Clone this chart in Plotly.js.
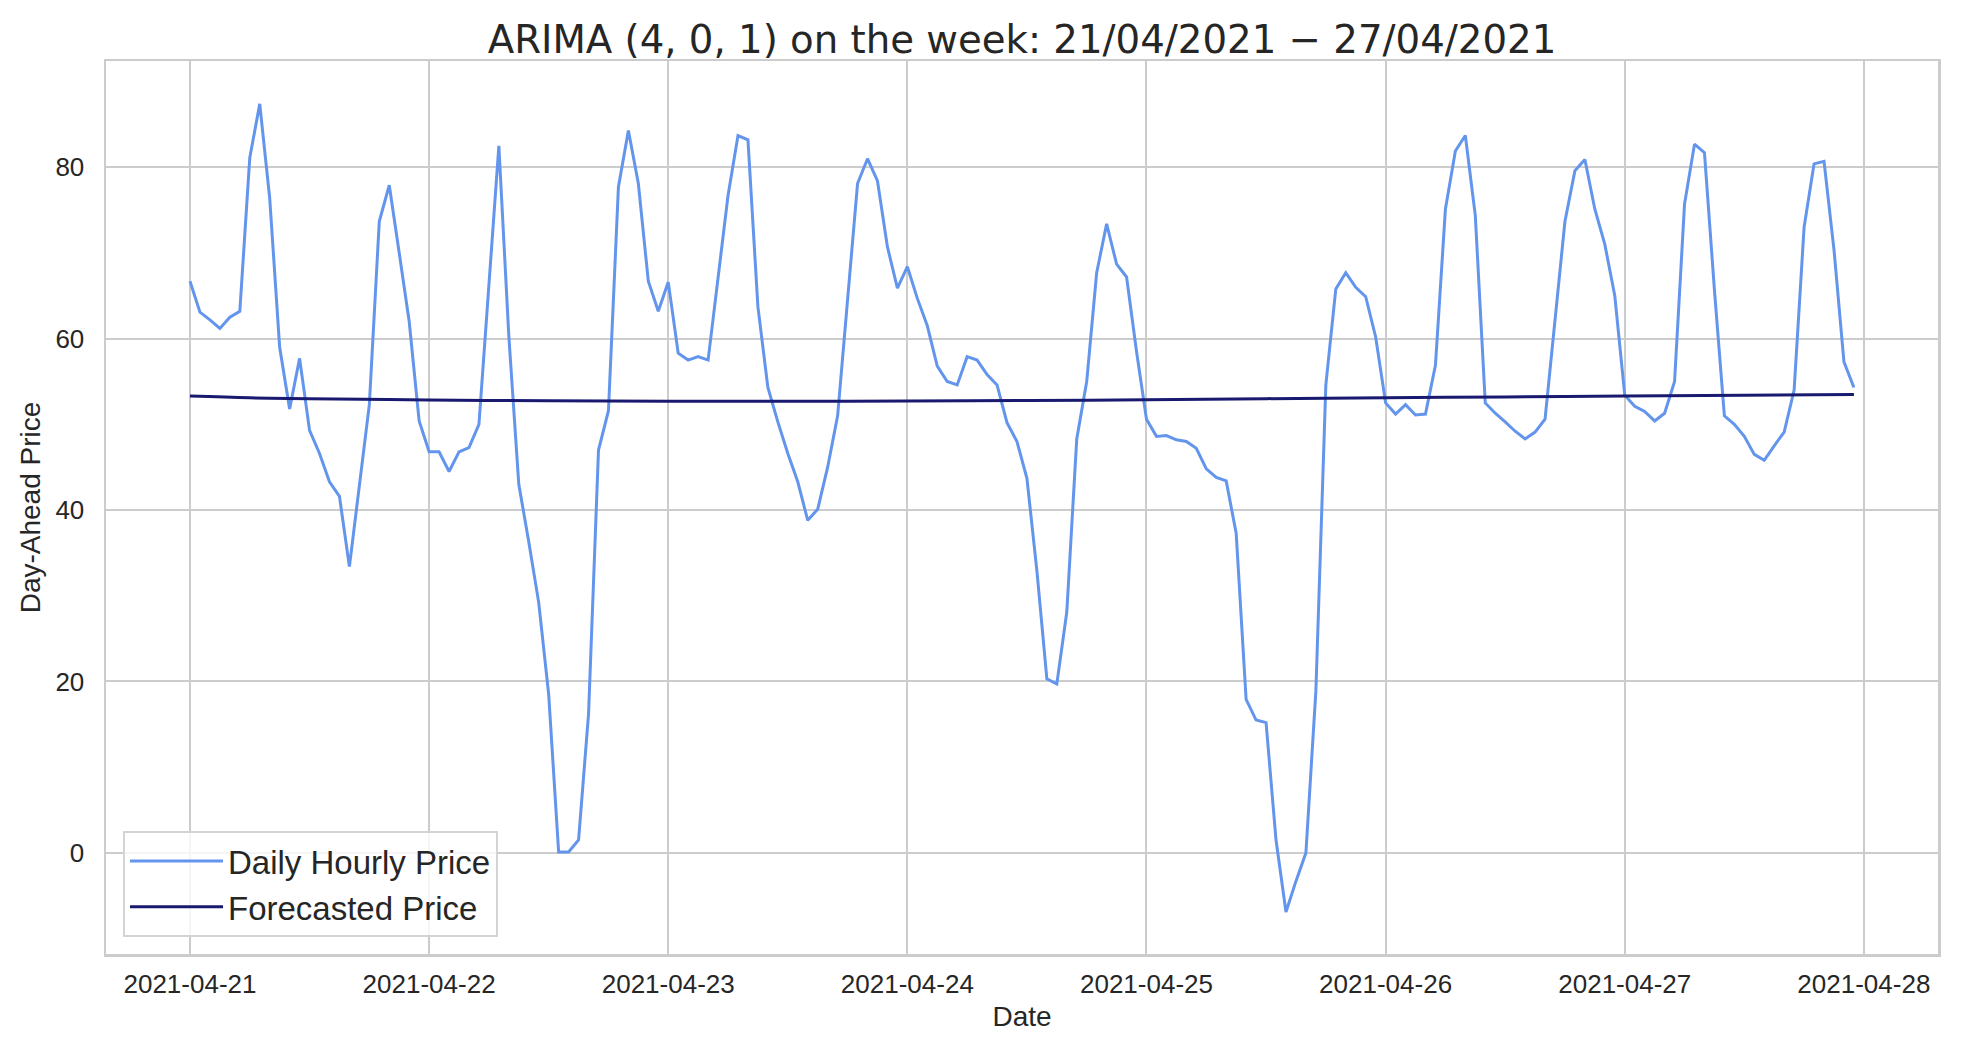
<!DOCTYPE html>
<html>
<head>
<meta charset="utf-8">
<script src="https://cdn.plot.ly/plotly-3.0.1.min.js"></script>
<style>
  html, body { margin: 0; padding: 0; background: #ffffff; }
  #chart { width: 1972px; height: 1052px; }
</style>
</head>
<body>
<div id="chart"></div>
<script>
// ---- Data ----
const startDate = "2021-04-21T00:00:00";

// Hourly day-ahead prices, 21/04/2021 00:00 .. 27/04/2021 23:00
const dailyHourlyPrice = [
  66.7, 63.1, 62.2, 61.2, 62.5, 63.2, 81.1, 87.4, 76.4, 59.0, 51.8, 57.7,
  49.3, 46.6, 43.3, 41.6, 33.4, 42.6, 52.3, 73.7, 77.9, 70.0, 62.0, 50.4,
  46.8, 46.8, 44.5, 46.8, 47.3, 50.0, 66.0, 82.5, 60.3, 43.0, 36.3, 29.2,
  18.5, 0.1, 0.1, 1.5, 16.2, 47.0, 51.6, 77.7, 84.3, 78.1, 66.7, 63.2,
  66.6, 58.3, 57.5, 57.9, 57.5, 67.0, 76.7, 83.7, 83.2, 63.7, 54.3, 50.3,
  46.6, 43.3, 38.8, 40.1, 45.0, 51.0, 64.5, 78.1, 81.0, 78.4, 70.7, 65.9,
  68.4, 64.7, 61.5, 56.8, 55.0, 54.6, 57.9, 57.5, 55.8, 54.6, 50.2, 48.0,
  43.7, 32.9, 20.3, 19.7, 28.1, 48.3, 55.0, 67.7, 73.4, 68.7, 67.2, 58.5,
  50.6, 48.6, 48.7, 48.2, 48.0, 47.2, 44.8, 43.8, 43.4, 37.3, 17.9, 15.5,
  15.2, 1.5, -6.9, -3.3, 0.0, 18.9, 54.6, 65.8, 67.7, 66.0, 64.9, 60.2,
  52.5, 51.2, 52.3, 51.1, 51.2, 56.9, 75.1, 81.9, 83.7, 74.4, 52.5, 51.3,
  50.3, 49.2, 48.3, 49.1, 50.6, 62.0, 73.7, 79.6, 80.9, 75.1, 71.0, 65.0,
  53.4, 52.1, 51.5, 50.4, 51.3, 55.0, 75.7, 82.7, 81.7, 65.7, 51.0, 50.0,
  48.6, 46.5, 45.8, 47.5, 49.1, 54.0, 73.0, 80.4, 80.7, 70.4, 57.3, 54.3
];

// Forecast (ARIMA) read at selected hours
const forecastHours = [0, 6, 12, 24, 36, 48, 60, 72, 84, 96, 108, 120, 132, 144, 156, 167];
const forecastedPrice = [53.3, 53.1, 53.0, 52.85, 52.75, 52.7, 52.7, 52.72, 52.78, 52.88, 53.0, 53.1, 53.2, 53.3, 53.4, 53.5];

const xTickVals = ["2021-04-21", "2021-04-22", "2021-04-23", "2021-04-24", "2021-04-25", "2021-04-26", "2021-04-27", "2021-04-28"];
const yTickVals = [0, 20, 40, 60, 80];

const chartTitle = "ARIMA (4, 0, 1) on the week: 21/04/2021 \u2212 27/04/2021";
const seriesNames = ["Daily Hourly Price", "Forecasted Price"];

// ---- helpers ----
function hourToDate(h) {
  const d = new Date(Date.UTC(2021, 3, 21, 0, 0, 0) + Math.round(h * 3600) * 1000);
  const p = n => String(n).padStart(2, "0");
  return d.getUTCFullYear() + "-" + p(d.getUTCMonth() + 1) + "-" + p(d.getUTCDate()) +
         " " + p(d.getUTCHours()) + ":" + p(d.getUTCMinutes()) + ":" + p(d.getUTCSeconds());
}
const priceX = dailyHourlyPrice.map((_, i) => hourToDate(i));
const forecastX = forecastHours.map(hourToDate);

const traces = [
  {
    x: priceX, y: dailyHourlyPrice, type: "scatter", mode: "lines",
    name: seriesNames[0],
    line: { color: "#6495ED", width: 3 }
  },
  {
    x: forecastX, y: forecastedPrice, type: "scatter", mode: "lines",
    name: seriesNames[1],
    line: { color: "#191970", width: 3, shape: "spline" }
  }
];

const tickFont = { family: "Liberation Sans, Arial, sans-serif", size: 26, color: "#262626" };
const labelFont = { family: "Liberation Sans, Arial, sans-serif", size: 28, color: "#262626" };

const layout = {
  width: 1972, height: 1052,
  paper_bgcolor: "#ffffff", plot_bgcolor: "#ffffff",
  margin: { l: 106, r: 34, t: 61, b: 98, pad: 0 },
  showlegend: true,
  title: {
    text: chartTitle,
    font: { family: "DejaVu Sans, sans-serif", size: 38.7, color: "#262626" },
    x: 0.5, xref: "paper", xanchor: "center",
    y: 1 - 39 / 1052, yref: "container", yanchor: "middle"
  },
  xaxis: {
    type: "date",
    range: [hourToDate(-8.43), hourToDate(175.44)],
    tickvals: xTickVals,
    ticktext: xTickVals,
    tickfont: tickFont,
    ticks: "", ticklabelstandoff: 5,
    showgrid: true, gridcolor: "#cccccc", gridwidth: 2,
    showline: true, linecolor: "#cccccc", linewidth: 2.5, mirror: true,
    zeroline: false, automargin: false,
    title: { text: "Date", font: labelFont, standoff: 9 }
  },
  yaxis: {
    range: [-11.8, 92.4],
    tickvals: yTickVals,
    tickfont: tickFont,
    ticks: "", ticklabelstandoff: 14,
    showgrid: true, gridcolor: "#cccccc", gridwidth: 2,
    showline: true, linecolor: "#cccccc", linewidth: 2.5, mirror: true,
    zeroline: false, automargin: false,
    title: { text: "Day-Ahead Price", font: labelFont, standoff: 7 }
  },
  legend: {
    x: (123 - 106) / 1832, y: (954 - 937) / 893, xanchor: "left", yanchor: "bottom",
    bgcolor: "rgba(255,255,255,0.8)", bordercolor: "#d4d4d4", borderwidth: 2,
    font: { family: "Liberation Sans, Arial, sans-serif", size: 33, color: "#262626" },
    itemwidth: 93, tracegroupgap: 0
  }
};

Plotly.newPlot("chart", traces, layout, { displayModeBar: false, staticPlot: true });
</script>
</body>
</html>
